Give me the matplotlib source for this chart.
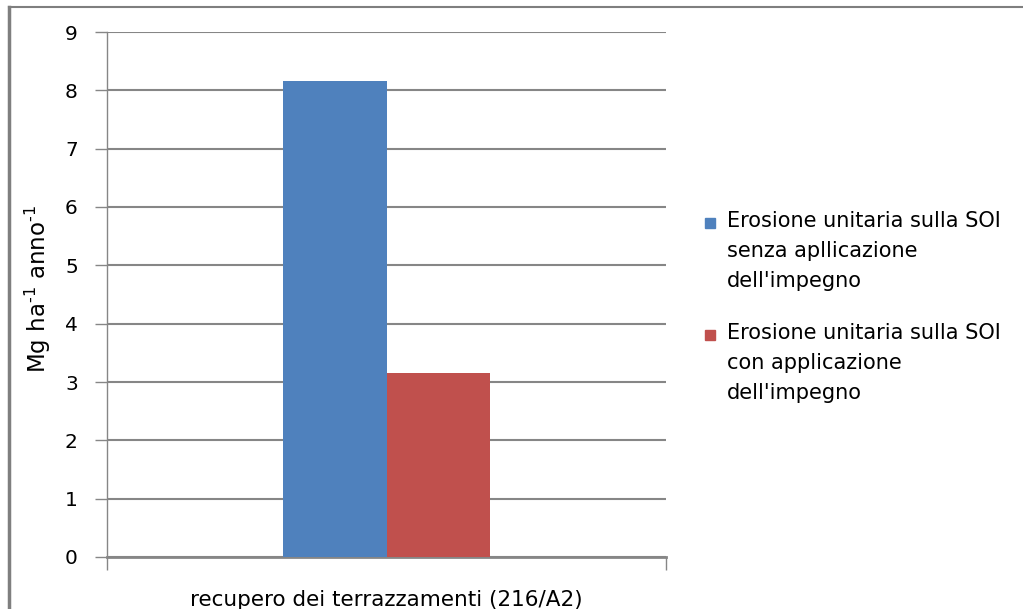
import matplotlib
matplotlib.use("Agg")
import matplotlib.pyplot as plt
from matplotlib.lines import Line2D
from matplotlib.patches import Rectangle
import numpy as np

# Data
categories = ["recupero dei terrazzamenti (216/A2)"]
series_labels = [
    "Erosione unitaria sulla SOI\nsenza apllicazione\ndell'impegno",
    "Erosione unitaria sulla SOI\ncon applicazione\ndell'impegno",
]
senza_impegno = [8.16]
con_impegno = [3.15]
y_ticks = [0, 1, 2, 3, 4, 5, 6, 7, 8, 9]

colors = ["#4F81BD", "#C0504D"]
grid_color = "#868686"

plt.rcParams["font.family"] = ["DejaVu Sans"]
plt.rcParams["mathtext.default"] = "regular"

W, H = 1023, 609
fig = plt.figure(figsize=(W / 100, H / 100), dpi=100)
ax = fig.add_axes([107 / W, 1 - 557 / H, (666 - 107) / W, (557 - 32) / H])

x = np.arange(len(categories))
bw = 0.185
ax.bar(x - bw / 2, senza_impegno, width=bw, color=colors[0], zorder=3)
ax.bar(x + bw / 2, con_impegno, width=bw, color=colors[1], zorder=3)

ax.set_xlim(-0.5, 0.5)
ax.set_ylim(0, 9)
ax.set_yticks(y_ticks)
ax.set_yticklabels([str(t) for t in y_ticks], fontsize=14.5)
ax.yaxis.grid(True, color=grid_color, linewidth=1.5, zorder=0)
ax.set_axisbelow(True)

ax.set_xticks([-0.5, 0.5])
ax.set_xticklabels(["", ""])
ax.tick_params(axis="x", length=9, width=1, color=grid_color, direction="out")
ax.tick_params(axis="y", length=9, width=1, color=grid_color, direction="out", pad=12)

for s in ["top", "right"]:
    ax.spines[s].set_visible(False)
ax.spines["left"].set_color(grid_color)
ax.spines["left"].set_linewidth(1)
ax.spines["bottom"].set_color(grid_color)
ax.spines["bottom"].set_linewidth(2)

# Category label under the axis
fig.text(ax.get_position().x0 + ax.get_position().width * 0.5, 1 - 600 / H, categories[0],
         ha="center", va="center", fontsize=15.5)

fig.text(38 / W, 1 - 289 / H, r"Mg ha$^{\text{-}1}$ anno$^{\text{-}1}$",
         rotation=90, ha="center", va="center", fontsize=16.5)

# Legend: square markers aligned with the first line of each entry
legend_tops = [223, 335]
for label, color, yc in zip(series_labels, colors, legend_tops):
    fig.add_artist(Rectangle((705 / W, 1 - (yc + 5) / H), 10 / W, 10 / H,
                             transform=fig.transFigure, color=color))
    fig.text(727 / W, 1 - (yc - 12) / H, label, ha="left", va="top",
             fontsize=15, linespacing=1.62)

# Outer page frame
pix = fig.transFigure
fig.add_artist(Line2D([9 / W, 9 / W], [0, 1 - 7 / H], color="#7f7f7f", linewidth=2.5, transform=pix))
fig.add_artist(Line2D([9 / W, 1], [1 - 7 / H, 1 - 7 / H], color="#7f7f7f", linewidth=1.5, transform=pix))

fig.savefig("out.png", dpi=100)
